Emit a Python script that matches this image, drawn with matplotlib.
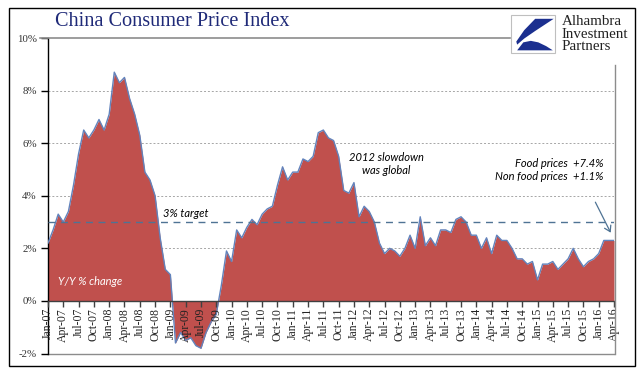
import matplotlib
matplotlib.use("Agg")
import matplotlib.pyplot as plt
from matplotlib.patches import Rectangle, Polygon, FancyArrowPatch
from matplotlib.lines import Line2D

# ---- data: China CPI, Y/Y % change, monthly Jan-07 .. Apr-16 ----
cpi_2007 = [2.2, 2.7, 3.3, 3.0, 3.4, 4.4, 5.6, 6.5, 6.2, 6.5, 6.9, 6.5]
cpi_2008 = [7.1, 8.7, 8.3, 8.5, 7.7, 7.1, 6.3, 4.9, 4.6, 4.0, 2.4, 1.2]
cpi_2009 = [1.0, -1.6, -1.2, -1.5, -1.4, -1.7, -1.8, -1.2, -0.8, -0.5, 0.6, 1.9]
cpi_2010 = [1.5, 2.7, 2.4, 2.8, 3.1, 2.9, 3.3, 3.5, 3.6, 4.4, 5.1, 4.6]
cpi_2011 = [4.9, 4.9, 5.4, 5.3, 5.5, 6.4, 6.5, 6.2, 6.1, 5.5, 4.2, 4.1]
cpi_2012 = [4.5, 3.2, 3.6, 3.4, 3.0, 2.2, 1.8, 2.0, 1.9, 1.7, 2.0, 2.5]
cpi_2013 = [2.0, 3.2, 2.1, 2.4, 2.1, 2.7, 2.7, 2.6, 3.1, 3.2, 3.0, 2.5]
cpi_2014 = [2.5, 2.0, 2.4, 1.8, 2.5, 2.3, 2.3, 2.0, 1.6, 1.6, 1.4, 1.5]
cpi_2015 = [0.8, 1.4, 1.4, 1.5, 1.2, 1.4, 1.6, 2.0, 1.6, 1.3, 1.5, 1.6]
cpi_2016 = [1.8, 2.3, 2.3, 2.3]

tick_labels = ["Jan-07", "Apr-07", "Jul-07", "Oct-07", "Jan-08", "Apr-08", "Jul-08", "Oct-08",
               "Jan-09", "Apr-09", "Jul-09", "Oct-09", "Jan-10", "Apr-10", "Jul-10", "Oct-10",
               "Jan-11", "Apr-11", "Jul-11", "Oct-11", "Jan-12", "Apr-12", "Jul-12", "Oct-12",
               "Jan-13", "Apr-13", "Jul-13", "Oct-13", "Jan-14", "Apr-14", "Jul-14", "Oct-14",
               "Jan-15", "Apr-15", "Jul-15", "Oct-15", "Jan-16", "Apr-16"]
y_ticks = [-2, 0, 2, 4, 6, 8, 10]
gridlines = [2, 4, 6, 8]
target = 3

values = (cpi_2007 + cpi_2008 + cpi_2009 + cpi_2010 + cpi_2011 + cpi_2012 +
          cpi_2013 + cpi_2014 + cpi_2015 + cpi_2016)
months = list(range(len(values)))

W, H = 641, 379
def fx(px):
    return px / W
def fy(py):
    return 1 - py / H

fig = plt.figure(figsize=(W / 100, H / 100), dpi=100)
fig.patch.set_facecolor("white")

ax = fig.add_axes([fx(48), fy(353.5), (614 - 48) / W, (353.5 - 38) / H])
ax.set_xlim(0, len(values) - 1)
ax.set_ylim(-2, 10)

for g in gridlines:
    ax.axhline(g, color="#A6A6A6", ls=(0, (2, 2)), lw=0.7, zorder=1)

ax.fill_between(months, 0, values, color="#C0504D", linewidth=0, zorder=2)
ax.plot(months, values, color="#6283BC", lw=1.0, zorder=3)
ax.axhline(target, color="#4F7394", ls=(0, (5, 4)), lw=1.0, zorder=4)
ax.axhline(-2, color="#8C8C8C", lw=1.0, zorder=1, clip_on=False)

for s in ["top", "right"]:
    ax.spines[s].set_visible(False)
ax.spines["left"].set_color("black")
ax.spines["left"].set_linewidth(1.0)
ax.spines["bottom"].set_position(("data", 0))
ax.spines["bottom"].set_color("#404040")
ax.spines["bottom"].set_linewidth(1.0)
ax.spines["bottom"].set_zorder(5)
ax.xaxis.set_zorder(6)

ax.set_yticks(y_ticks)
ax.set_yticklabels([f"{v}%" for v in y_ticks], family="Liberation Serif", fontsize=7.8, color="#333333")
ax.set_xticks(list(range(0, len(values), 3)))
ax.set_xticklabels(tick_labels, rotation=90, family="Liberation Serif", fontsize=8.5,
                   color="#222222", va="top", ha="center")
ax.tick_params(axis="y", direction="out", length=5, width=1, pad=3, color="black")
ax.tick_params(axis="x", direction="out", length=4, width=1, pad=1, color="#404040")

# annotations
ax.text(2, 0.75, "Y/Y % change", color="white", style="italic",
        family="Lato", fontsize=8, ha="left", va="center", zorder=6)
ax.text(22.6, 3.32, "3% target", color="black", style="italic", family="Lato",
        fontsize=8, ha="left", va="center", zorder=6)
ax.text(66.4, 5.2, "2012 slowdown\nwas global", color="black", style="italic", family="Lato",
        fontsize=8, ha="center", va="center", linespacing=1.25, zorder=6)
ax.text(108.9, 4.99, "Food prices  +7.4%\nNon food prices  +1.1%", color="black",
        style="italic", family="Lato", fontsize=8, ha="right", va="center",
        linespacing=1.25, zorder=6)
ax.add_patch(FancyArrowPatch((107.1, 3.85), (110.6, 2.5), arrowstyle="->,head_length=4,head_width=2.5",
                             color="#4F7394", lw=0.9, zorder=6))

# frame lines (figure coordinates)
fig.add_artist(Line2D([fx(40), fx(510)], [fy(38), fy(38)], color="#8C8C8C", lw=1.2))
fig.add_artist(Line2D([fx(614.5), fx(614.5)], [fy(65), fy(353.5)], color="#8C8C8C", lw=1.0))
fig.add_artist(Rectangle((fx(9), fy(366)), fx(635) - fx(9), fy(8) - fy(366),
                         fill=False, edgecolor="black", lw=1.0, transform=fig.transFigure))

# title
fig.text(fx(55), fy(22), "China Consumer Price Index", family="Liberation Serif",
         fontsize=14.6, color="#1F2A78", ha="left", va="center")

# logo
lx0, ly0, lx1, ly1 = 511, 15, 555, 53
fig.add_artist(Rectangle((fx(lx0), fy(ly1)), fx(lx1) - fx(lx0), fy(ly0) - fy(ly1),
                         facecolor="white", edgecolor="#BFBFBF", lw=0.8, transform=fig.transFigure))
def lp(u, v):
    return (fx(lx0 + u * (lx1 - lx0)), fy(ly0 + v * (ly1 - ly0)))
upper = [lp(0.55, 0.1), lp(0.97, 0.1), lp(0.55, 0.42), lp(0.3, 0.62), lp(0.14, 0.78), lp(0.12, 0.7), lp(0.3, 0.4)]
lower = [lp(0.14, 0.93), lp(0.28, 0.72), lp(0.45, 0.68), lp(0.62, 0.72), lp(0.8, 0.82), lp(0.95, 0.93)]
fig.add_artist(Polygon(upper, closed=True, facecolor="#1B2F8F", edgecolor="none", transform=fig.transFigure))
fig.add_artist(Polygon(lower, closed=True, facecolor="#1B2F8F", edgecolor="none", transform=fig.transFigure))
fig.text(fx(562), fy(34), "Alhambra\nInvestment\nPartners", family="Liberation Serif",
         fontsize=10.8, color="#222222", ha="left", va="center", linespacing=0.95)

fig.savefig("out.png", dpi=100, facecolor="white")
